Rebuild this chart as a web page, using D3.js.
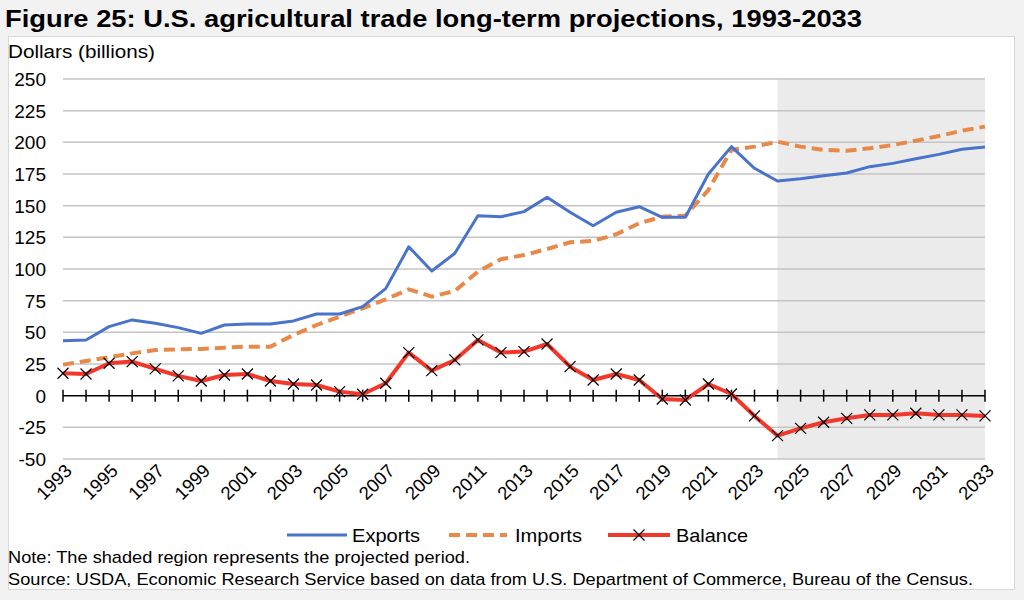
<!DOCTYPE html>
<html><head><meta charset="utf-8">
<script src="https://cdn.jsdelivr.net/npm/d3@7"></script>
<style>
html,body{margin:0;padding:0;background:#f2f2f2;}
svg{display:block;font-family:"Liberation Sans",Arial,sans-serif;}
</style></head>
<body>
<svg id="c" width="1024" height="600"></svg>
<script>
const years = d3.range(1993, 2034);
const exportsVals = [43.4,44,54.5,59.8,57.1,53.7,49.2,55.8,56.6,56.6,59,64.5,64.5,70.3,84.5,117.5,98.4,112.4,142,141.3,145.3,156.6,144.8,134.2,144.8,149.2,140.8,140.8,175,196.6,179.5,169.5,171.3,173.7,175.8,180.8,183.4,187.1,190.5,194.5,196.3];
const importsVals = [24.5,27.4,30.3,33.4,36,36.6,36.9,37.9,38.7,38.7,47.9,55.8,62.4,69,76,84,78.2,82.7,97.9,107.7,111,115.8,121.1,122.1,127.4,136.1,141.3,142.1,162.4,194,196.6,200.5,196.6,194,193.4,195.3,197.9,201.3,205,209.2,212.4];
const balanceVals = [17.7,17.1,25.6,26.9,21.1,15.6,11.6,16.3,17.1,11.6,9.2,8.4,3.2,1.1,9.8,34,19.8,28.2,44,34,34.8,40.8,22.9,12.4,17.1,12.4,-2.6,-3.4,9.2,1.3,-16,-31.6,-25.8,-21,-17.9,-15.2,-15.2,-13.9,-15.2,-15.2,-16];
const yTicks = [-50,-25,0,25,50,75,100,125,150,175,200,225,250];
const xLabelYears = d3.range(1993, 2034, 2);
const projStart = 2024, projEnd = 2033;

const svg = d3.select("#c");
svg.append("rect").attr("x",8.5).attr("y",36.5).attr("width",1006).attr("height",553)
  .attr("fill","#fff").attr("stroke","#d9d9d9").attr("stroke-width",1);

svg.append("text").attr("x",5).attr("y",27).attr("font-size",23).attr("font-weight","bold")
  .attr("fill","#000").attr("textLength",857).attr("lengthAdjust","spacingAndGlyphs")
  .text("Figure 25: U.S. agricultural trade long-term projections, 1993-2033");

svg.append("text").attr("x",8).attr("y",58).attr("font-size",18).attr("fill","#000")
  .attr("textLength",147).attr("lengthAdjust","spacingAndGlyphs")
  .text("Dollars (billions)");

const x = d3.scaleLinear().domain([1993,2033]).range([63,985]);
const y = d3.scaleLinear().domain([-50,250]).range([459,79]);

svg.append("rect").attr("x",x(projStart)).attr("y",y(250)).attr("width",x(projEnd)-x(projStart))
  .attr("height",y(-50)-y(250)).attr("fill","#ebebeb");

svg.append("g").selectAll("line").data(yTicks.filter(v=>v!==0)).join("line")
  .attr("x1",x(1993)).attr("x2",x(2033)).attr("y1",d=>y(d)).attr("y2",d=>y(d))
  .attr("stroke","#c4c4c4").attr("stroke-width",1.5);

svg.append("g").selectAll("text").data(yTicks).join("text")
  .attr("x",46).attr("y",d=>y(d)+7).attr("text-anchor","end").attr("font-size",19).attr("fill","#000")
  .text(d=>d);

const zero = svg.append("g");
zero.append("line").attr("x1",x(1993)).attr("x2",x(2033)).attr("y1",y(0)).attr("y2",y(0))
  .attr("stroke","#000").attr("stroke-width",1.5);
zero.selectAll("line.t").data(years).join("line").attr("class","t")
  .attr("x1",d=>x(d)).attr("x2",d=>x(d)).attr("y1",y(0)-6).attr("y2",y(0)+6)
  .attr("stroke","#000").attr("stroke-width",1.5);

svg.append("g").selectAll("text").data(xLabelYears).join("text")
  .attr("text-anchor","end").attr("font-size",18.5).attr("fill","#000")
  .attr("transform",d=>`translate(${x(d)+10},${472}) rotate(-45)`)
  .text(d=>d);

const line = vals => d3.line().x((d,i)=>x(years[i])).y(d=>y(d))(vals);

svg.append("path").attr("d",line(importsVals)).attr("fill","none").attr("stroke","#e8894a")
  .attr("stroke-width",4).attr("stroke-dasharray","11,6");
svg.append("path").attr("d",line(exportsVals)).attr("fill","none").attr("stroke","#4a74c9")
  .attr("stroke-width",3).attr("stroke-linejoin","round");
svg.append("path").attr("d",line(balanceVals)).attr("fill","none").attr("stroke","#f2382a")
  .attr("stroke-width",4).attr("stroke-linejoin","round");

const xMark = (g, cx, cy) => {
  const s = 5.5;
  g.append("path").attr("d",`M${cx-s},${cy-s}L${cx+s},${cy+s}M${cx-s},${cy+s}L${cx+s},${cy-s}`)
    .attr("stroke","#000").attr("stroke-width",1.2).attr("fill","none");
};
const mk = svg.append("g");
balanceVals.forEach((v,i)=>xMark(mk, x(years[i]), y(v)));

const lg = svg.append("g");
const ly = 535;
lg.append("line").attr("x1",287).attr("x2",347).attr("y1",ly).attr("y2",ly).attr("stroke","#4a74c9").attr("stroke-width",3);
lg.append("text").attr("x",352).attr("y",ly+7).attr("font-size",19).attr("textLength",68).attr("lengthAdjust","spacingAndGlyphs").text("Exports");
lg.append("line").attr("x1",449).attr("x2",507).attr("y1",ly).attr("y2",ly).attr("stroke","#e8894a").attr("stroke-width",4).attr("stroke-dasharray","11,6");
lg.append("text").attr("x",515).attr("y",ly+7).attr("font-size",19).attr("textLength",67).attr("lengthAdjust","spacingAndGlyphs").text("Imports");
lg.append("line").attr("x1",608).attr("x2",670).attr("y1",ly).attr("y2",ly).attr("stroke","#f2382a").attr("stroke-width",4);
xMark(lg, 639, ly);
lg.append("text").attr("x",676).attr("y",ly+7).attr("font-size",19).attr("textLength",72).attr("lengthAdjust","spacingAndGlyphs").text("Balance");

svg.append("text").attr("x",8).attr("y",563).attr("font-size",17).attr("fill","#000")
  .attr("textLength",462).attr("lengthAdjust","spacingAndGlyphs")
  .text("Note: The shaded region represents the projected period.");
svg.append("text").attr("x",8).attr("y",585).attr("font-size",17).attr("fill","#000")
  .attr("textLength",965).attr("lengthAdjust","spacingAndGlyphs")
  .text("Source: USDA, Economic Research Service based on data from U.S. Department of Commerce, Bureau of the Census.");
</script>
</body></html>
